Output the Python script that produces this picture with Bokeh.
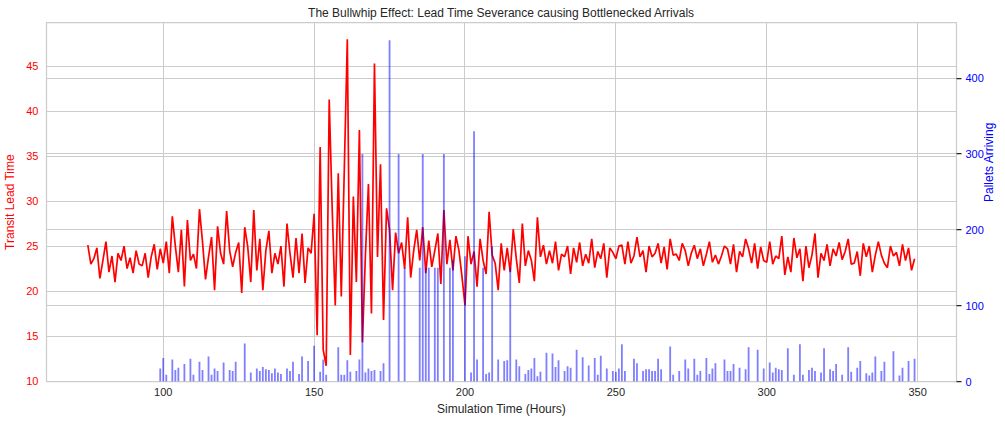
import math
from bokeh.plotting import figure
from bokeh.models import Range1d, LinearAxis, FixedTicker, Grid
from bokeh.embed import file_html
from bokeh.resources import INLINE

# ---------------- data ----------------
hours = list(range(75, 350))
lead_time = [
    25.1, 23.0, 23.6, 24.8, 21.4, 23.4, 25.5, 22.1, 23.9, 21.0,
    24.2, 23.4, 25.0, 22.5, 23.7, 22.0, 24.5, 23.0, 22.8, 24.2,
    21.5, 23.8, 25.2, 22.4, 24.7, 23.1, 25.5, 22.0, 28.3, 25.0,
    22.1, 26.8, 20.5, 27.9, 23.4, 24.1, 22.5, 29.1, 25.5, 21.3,
    23.8, 26.0, 20.1, 27.2, 24.2, 23.0, 28.9, 24.5, 22.7, 24.3,
    25.4, 19.8, 27.1, 24.9, 21.0, 29.0, 22.3, 25.8, 20.1, 24.5,
    26.7, 22.0, 24.2, 23.0, 25.0, 20.5, 27.5, 24.2, 21.5, 25.9,
    22.0, 26.4, 20.9, 24.8, 24.2, 28.6, 15.1, 36.0, 13.5, 11.7,
    41.3, 29.0, 18.4, 33.1, 19.4, 33.5, 48.0, 12.9, 30.5, 21.0,
    37.9, 14.3, 24.0, 31.9, 17.5, 45.3, 23.8, 34.1, 16.8, 29.2,
    26.8, 20.1, 26.5, 24.2, 25.4, 22.5, 28.2, 21.5, 24.5, 26.8,
    23.4, 27.1, 22.0, 25.6, 22.7, 24.5, 26.4, 20.8, 29.0, 23.0,
    25.7, 22.3, 26.1, 24.5, 21.6, 18.4, 26.1, 23.0, 24.4, 20.5,
    25.8, 23.4, 21.9, 28.8, 24.0, 23.1, 20.1, 25.3, 22.3, 24.8,
    22.1, 26.9, 23.6, 20.9, 27.5, 22.8, 24.5, 23.4, 21.1, 28.2,
    23.8, 25.1, 23.0, 24.5, 23.1, 25.5, 22.3, 24.1, 23.8, 25.0,
    21.9, 24.8, 23.2, 25.4, 22.8, 24.1, 23.1, 25.8, 22.6, 24.4,
    23.6, 25.3, 21.5, 24.8, 24.3, 23.6, 25.0, 25.1, 23.0, 25.5,
    23.1, 23.9, 26.0, 23.8, 24.5, 22.1, 25.0, 23.8, 24.2, 25.3,
    23.1, 24.9, 22.4, 25.8, 24.0, 24.1, 23.4, 25.3, 24.5, 22.8,
    24.2, 25.1, 23.6, 24.7, 22.8, 24.1, 25.5, 23.2, 24.0, 23.0,
    23.9, 25.0, 24.7, 23.0, 25.2, 22.1, 24.4, 23.8, 25.8, 24.7,
    23.1, 25.3, 22.5, 24.9, 23.4, 23.2, 25.5, 23.0, 23.9, 23.6,
    26.1, 21.8, 23.8, 22.1, 25.9, 23.7, 24.7, 21.1, 25.0, 22.6,
    24.0, 26.4, 21.5, 24.2, 23.4, 25.2, 22.8, 24.7, 23.9, 25.4,
    23.5, 24.4, 25.8, 23.0, 23.1, 24.4, 21.7, 25.3, 23.8, 25.0,
    22.1, 24.0, 25.5, 24.0, 23.1, 22.6, 25.0, 23.9, 24.3, 22.8,
    25.2, 23.4, 24.8, 22.3, 23.6,
]

bar_hours = [
    99, 100, 101, 103, 104, 105, 107, 109, 110, 112, 113, 115, 116, 117, 118,
    120, 122, 123, 124, 127, 129, 131, 132, 133, 134, 135, 136, 137, 138, 139,
    141, 142, 143, 145, 146, 148, 150, 152, 153, 154, 158, 159, 160, 161, 162,
    164, 165, 166, 167, 168, 169, 170, 172, 173, 175, 178, 180, 185, 186, 187,
    188, 190, 191, 193, 195, 196, 200, 202, 203, 204, 206, 207, 208, 209, 211,
    213, 214, 215, 217, 218, 220, 221, 222, 223, 224, 225, 227, 229, 230, 231,
    233, 234, 235, 237, 239, 241, 243, 244, 245, 247, 249, 250, 251, 252, 253,
    256, 257, 259, 260, 261, 262, 263, 264, 265, 268, 269, 271, 273, 274, 276,
    277, 278, 280, 281, 282, 283, 286, 287, 288, 289, 291, 293, 294, 297, 299,
    301, 302, 303, 304, 305, 307, 309, 311, 312, 314, 315, 316, 318, 319, 321,
    322, 323, 325, 327, 328, 330, 331, 333, 334, 335, 336, 338, 339, 342, 344,
    345, 347, 349,
]
pallets = [
    17, 31, 9, 29, 15, 18, 23, 30, 9, 26, 15, 33, 9, 17, 14,
    25, 15, 14, 26, 50, 12, 17, 14, 19, 16, 15, 11, 17, 12, 10,
    17, 14, 26, 10, 33, 27, 47, 13, 29, 9, 45, 9, 9, 28, 13,
    14, 29, 300, 12, 17, 14, 15, 14, 24, 450, 300, 150, 150, 300, 150,
    150, 150, 150, 300, 150, 160, 165, 12, 330, 29, 150, 10, 12, 178, 29,
    27, 28, 150, 29, 20, 10, 15, 17, 31, 7, 13, 38, 37, 19, 28,
    14, 20, 18, 42, 32, 21, 31, 9, 34, 17, 14, 13, 17, 49, 14,
    30, 24, 14, 16, 16, 14, 14, 30, 16, 46, 9, 14, 29, 17, 30,
    9, 14, 31, 10, 17, 24, 29, 14, 14, 23, 18, 16, 45, 42, 17,
    25, 12, 18, 16, 15, 44, 9, 49, 9, 15, 18, 14, 12, 44, 16,
    14, 23, 9, 45, 13, 18, 27, 11, 8, 12, 33, 14, 26, 40, 8,
    18, 27, 30,
]

x_ticks = [100, 150, 200, 250, 300, 350]
left_ticks = [10, 15, 20, 25, 30, 35, 40, 45]
right_ticks = [0, 100, 200, 300, 400]

title_text = "The Bullwhip Effect: Lead Time Severance causing Bottlenecked Arrivals"

# ---------------- figure ----------------
FONT = "Liberation Sans"
DARK = "#262626"
GRID = "#cccccc"

p = figure(width=1005, height=424, output_backend="svg", toolbar_location=None,
           x_range=Range1d(61.3, 362.9), y_range=Range1d(9.95, 49.85),
           min_border_left=46, min_border_right=47, min_border_top=22,
           min_border_bottom=43, background_fill_color="white",
           border_fill_color="white")
p.extra_y_ranges = {"bars": Range1d(0, 473.4)}

p.title.text = title_text
p.title.align = "center"
p.title.text_font = FONT
p.title.text_font_size = "12px"
p.title.text_font_style = "normal"
p.title.text_color = DARK
p.title.standoff = 6
p.title.offset = 0

p.outline_line_color = GRID
p.outline_line_width = 1.25

# x axis
xa = p.xaxis[0]
xa.ticker = FixedTicker(ticks=x_ticks)
xa.axis_label = "Simulation Time (Hours)"
xa.axis_label_text_font = FONT
xa.axis_label_text_font_size = "12px"
xa.axis_label_text_font_style = "normal"
xa.axis_label_text_color = DARK
xa.axis_label_standoff = 3
xa.major_label_text_font = FONT
xa.major_label_text_font_size = "11px"
xa.major_label_text_color = DARK
xa.major_label_standoff = 6
xa.axis_line_color = None
xa.major_tick_line_color = None
xa.major_tick_out = 0
xa.major_tick_in = 0
xa.minor_tick_line_color = None

# left axis
ya = p.yaxis[0]
ya.ticker = FixedTicker(ticks=left_ticks)
ya.axis_label = "Transit Lead Time"
ya.axis_label_text_font = FONT
ya.axis_label_text_font_size = "12px"
ya.axis_label_text_font_style = "normal"
ya.axis_label_text_color = "red"
ya.axis_label_standoff = 6
ya.major_label_text_font = FONT
ya.major_label_text_font_size = "11px"
ya.major_label_text_color = "red"
ya.major_label_standoff = 8
ya.axis_line_color = None
ya.major_tick_line_color = None
ya.major_tick_out = 0
ya.major_tick_in = 0
ya.minor_tick_line_color = None

# right axis
ra = LinearAxis(y_range_name="bars", ticker=FixedTicker(ticks=right_ticks))
ra.axis_label = "Pallets Arriving"
ra.axis_label_text_font = FONT
ra.axis_label_text_font_size = "12px"
ra.axis_label_text_font_style = "normal"
ra.axis_label_text_color = "blue"
ra.axis_label_standoff = 2
ra.major_label_text_font = FONT
ra.major_label_text_font_size = "11px"
ra.major_label_text_color = "blue"
ra.major_label_standoff = 4
ra.axis_line_color = None
ra.major_tick_line_color = DARK
ra.major_tick_line_width = 1.25
ra.major_tick_in = 0
ra.major_tick_out = 5
ra.minor_tick_line_color = None
if "axis_label_orientation" in ra.properties():
    ra.axis_label_orientation = math.pi / 2
p.add_layout(ra, "right")

# grids
p.xgrid.ticker = FixedTicker(ticks=x_ticks)
p.ygrid.ticker = FixedTicker(ticks=left_ticks)
for g in (p.xgrid[0], p.ygrid[0]):
    g.grid_line_color = GRID
    g.grid_line_width = 1
rg = Grid(dimension=1, ticker=FixedTicker(ticks=right_ticks), y_range_name="bars",
          grid_line_color=GRID, grid_line_width=1)
p.add_layout(rg)

# glyphs
p.line(hours, lead_time, line_color="red", line_width=1.7)
p.vbar(x=bar_hours, top=pallets, bottom=0, width=0.6, y_range_name="bars",
       fill_color="blue", fill_alpha=0.5, line_color=None)

open("out.html", "w").write(file_html(p, INLINE))
